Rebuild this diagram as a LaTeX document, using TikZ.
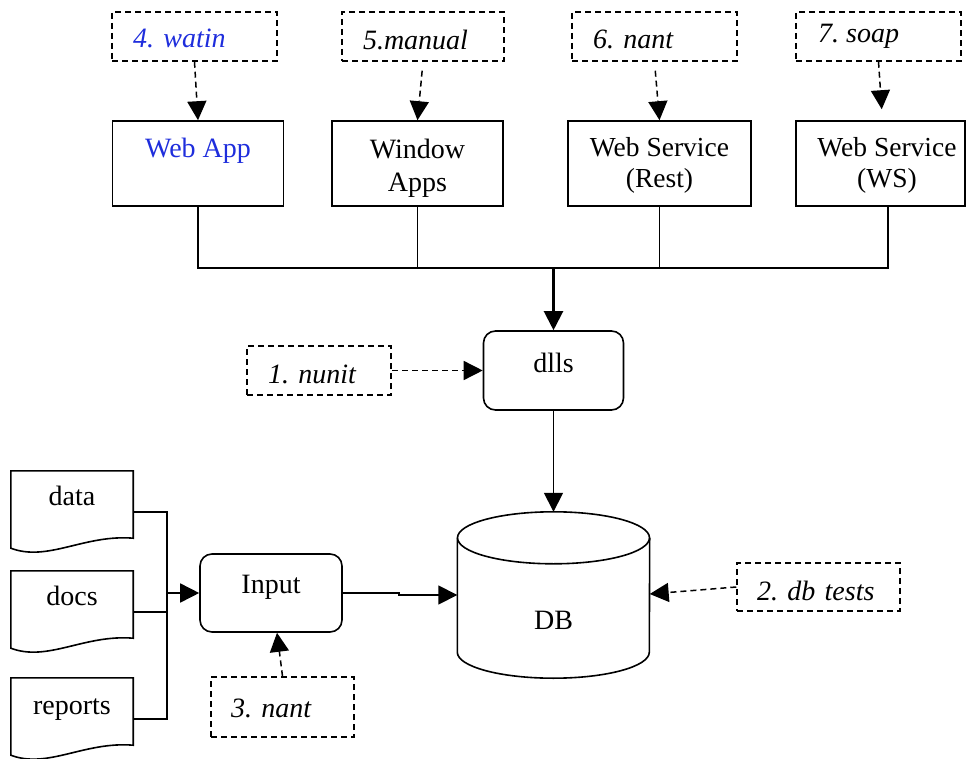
\documentclass[tikz,border=0pt]{standalone}
\usepackage{fontspec}
\setmainfont{Liberation Serif}
\usetikzlibrary{arrows.meta}
\definecolor{lblue}{RGB}{30,45,220}
\frenchspacing
\begin{document}
\begin{tikzpicture}[x=1pt,y=-1pt,
  line/.style={line width=1.6pt},
  tip/.style={-{Triangle[length=19pt,width=19pt]}},
  dbox/.style={draw, dash pattern=on 6pt off 4pt, line width=1.5pt, inner xsep=21pt, inner ysep=0pt, align=left, font=\fontsize{28}{32}\selectfont\itshape\frenchspacing, text height=36pt, text depth=13pt},
  abox/.style={draw, line width=1.6pt, inner sep=0pt, minimum height=85pt, font=\fontsize{28}{33}\selectfont},
  rbox/.style={draw, line width=1.6pt, rounded corners=12pt, inner sep=0pt, font=\fontsize{28}{33}\selectfont},
  docnode/.style={inner sep=0pt, minimum width=122pt, minimum height=77pt, text height=34pt, text depth=43pt, font=\fontsize{28}{33}\selectfont},
  dashedarrow/.style={line width=1.5pt, dash pattern=on 6pt off 4pt, -{Triangle[length=19pt,width=19pt]}}
]
\useasboundingbox (0,0) rectangle (966,759);

% test labels
\node[dbox, text width=123pt, text=lblue] (t4) at (194.5,36.5) {4. watin};
\node[dbox, text width=120pt, text height=38pt, text depth=11pt] (t5) at (423,36.5) {5.manual};
\node[dbox, text width=123pt, text height=37pt, text depth=12pt] (t6) at (654.5,36.5) {6. nant};
\node[dbox, minimum width=165pt, minimum height=49pt] (t7) at (878.5,36.5) {};
\begin{scope}
  \clip (796,12) rectangle (961,49);
  \node[inner sep=0pt, anchor=base west, font=\fontsize{28}{32}\selectfont\itshape\frenchspacing] (t7txt) at (818,43) {7. soap};
\end{scope}
\node[dbox, text width=102pt, text height=37pt, text depth=12pt] (t1) at (319,370.5) {1. nunit};
\node[dbox, text width=123pt, inner xsep=20pt, text height=37pt, text depth=11pt] (t2) at (818.5,587) {2. db tests};
\node[dbox, text width=103pt, inner xsep=20pt, text height=40pt, text depth=20pt] (t3) at (282.5,707) {3. nant};

% applications
\node[abox, minimum width=171pt, text height=37pt, text depth=48pt, text=lblue] (webapp) at (198,163.5) {Web App};
\node[abox, minimum width=171pt, text height=38pt, text depth=47pt] (window) at (417.5,163.5) {\begin{tabular}[t]{@{}c@{}}Window\\Apps\end{tabular}};
\node[abox, minimum width=183pt, text height=36pt, text depth=49pt, font=\fontsize{27.5}{31}\selectfont] (rest) at (659.5,163.5) {\begin{tabular}[t]{@{}c@{}}Web Service\\(Rest)\end{tabular}};
\node[abox, minimum width=169pt, text height=36pt, text depth=49pt, font=\fontsize{27.5}{31}\selectfont] (ws) at (880.5,163.5) {\hspace*{13pt}\begin{tabular}[t]{@{}c@{}}Web Service\\(WS)\end{tabular}};
\coordinate (wsS) at (888,206);
\coordinate (bus) at (553.5,268);

% middle
\node[rbox, minimum width=140pt, minimum height=79pt, text height=41pt, text depth=38pt] (dlls) at (553.5,370.5) {dlls};
\node[rbox, minimum width=142pt, minimum height=78pt, text height=39pt, text depth=39pt] (input) at (271,593) {Input};
\node[inner sep=0pt, minimum width=192pt, minimum height=166pt, text height=117pt, text depth=49pt, font=\fontsize{28}{33}\selectfont] (db) at (553.5,595) {DB};

% DB cylinder
\draw[line] ([yshift=-26pt]db.north west) -- ([yshift=26pt]db.south west) arc[start angle=180,end angle=360,x radius=96pt,y radius=26pt] -- ([yshift=-26pt]db.north east);
\draw[line] ([yshift=-26pt]db.north) ellipse[x radius=96pt, y radius=26pt];

% documents
\node[docnode] (data) at (72,509.5) {data};
\node[docnode] (docs) at (72,609.5) {docs};
\node[docnode, text height=36pt, text depth=41pt] (reports) at (72,716.5) {reports};
\foreach \d in {data,docs,reports}{
  \draw[line] (\d.south west) -- (\d.north west) -- (\d.north east) -- ([yshift=10pt]\d.south east)
    .. controls ([xshift=-49pt,yshift=14pt]\d.south east) and ([xshift=37pt,yshift=-14pt]\d.south west) .. (\d.south west) -- cycle;
}

% connectors: documents to input
\coordinate (jn) at (167,593);
\coordinate (dataR) at ([yshift=-2.5pt]data.east);
\coordinate (docsR) at ([yshift=-2.5pt]docs.east);
\coordinate (repR) at ([yshift=-2.5pt]reports.east);
\draw[line] (dataR) -| (jn) |- (repR);
\draw[line] (docsR) -- (docsR -| jn);
\draw[line, tip] (jn) -- (input.west);

% input to DB
\coordinate (jog) at (399,593);
\draw[line, tip] (input.east) -- (jog) |- (db.west);

% apps bus
\draw[line] (webapp.south) |- (bus) -| (wsS);
\draw[line] (window.south) -- (window.south |- bus);
\draw[line] (rest.south) -- (rest.south |- bus);
\draw[line width=2.2pt, tip] (bus) -- (dlls.north);
\draw[line, tip] (dlls.south) -- (db.north);

% test arrows
\draw[dashedarrow] (t4.south) -- (webapp.north);
\draw[dashedarrow, shorten <=9pt] (t5.south) -- (window.north);
\draw[dashedarrow, shorten <=9pt] (t6.south) -- (rest.north);
\draw[dashedarrow, shorten >=11pt] (t7.south) -- ([xshift=2pt]ws.north);
\draw[dashedarrow] (t1.east) -- (dlls.west);
\draw[dashedarrow] (t2.west) -- ([yshift=1pt]db.east);
\draw[dashedarrow] (t3.north) -- ([xshift=6pt]input.south);
\end{tikzpicture}
\end{document}
